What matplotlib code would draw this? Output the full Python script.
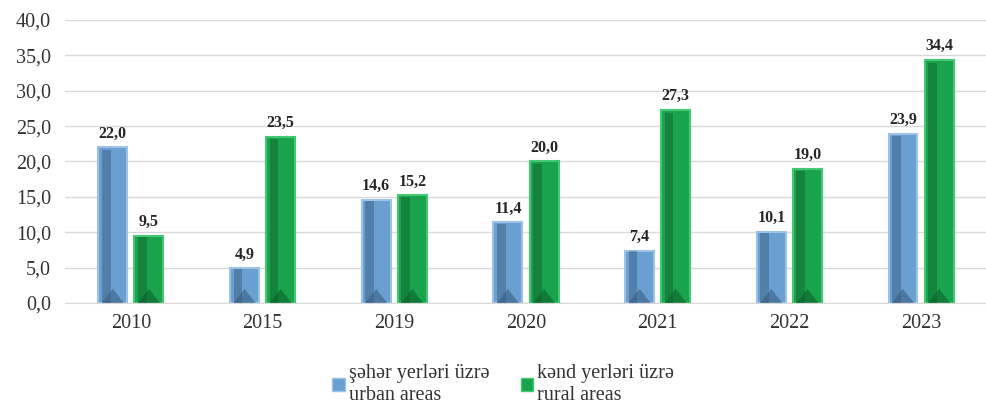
import numpy as np
import matplotlib
matplotlib.use("Agg")
import matplotlib.pyplot as plt
from matplotlib.patches import Rectangle, Polygon

plt.rcParams['font.family'] = ['Liberation Serif', 'DejaVu Serif']

years = ['2010', '2015', '2019', '2020', '2021', '2022', '2023']
urban = [22.0, 4.9, 14.6, 11.4, 7.4, 10.1, 23.9]
rural = [9.5, 23.5, 15.2, 20.0, 27.3, 19.0, 34.4]
yticks = [0, 5, 10, 15, 20, 25, 30, 35, 40]

urban_col = dict(face='#6a9fd2', dark='#35587a', edge='#9cc3e6')
rural_col = dict(face='#18a34c', dark='#0d5c2c', edge='#45c874')


def fmt(v):
    return f"{v:.1f}".replace('.', ',')


def bevel_bars(ax, xs, vals, width, cols):
    bars = ax.bar(xs, vals, width, color=cols['face'], edgecolor=cols['edge'],
                  linewidth=1.5, zorder=3)
    for b in bars:
        x0, w, h = b.get_x(), b.get_width(), b.get_height()
        # darker left face and bottom triangle to fake the bevel look
        ax.add_patch(Rectangle((x0 + w * 0.12, 0), w * 0.3, h * 0.985, color=cols['dark'],
                               alpha=0.45, lw=0, zorder=4))
        tri_h = min(h * 0.5, 2.0)
        ax.add_patch(Polygon([(x0 + w * 0.12, 0), (x0 + w * 0.88, 0),
                              (x0 + w * 0.5, tri_h)], closed=True,
                             color=cols['dark'], alpha=0.55, lw=0, zorder=4))
    return bars


fig = plt.figure(figsize=(9.87, 4.12), dpi=100)
ax = fig.add_axes([0.0659, 0.2646, 0.934, 0.687])

x = np.arange(len(years))
w = 0.22
off = 0.137
b1 = bevel_bars(ax, x - off, urban, w, urban_col)
b2 = bevel_bars(ax, x + off, rural, w, rural_col)

for bars, vals in [(b1, urban), (b2, rural)]:
    for b, v in zip(bars, vals):
        ax.annotate(fmt(v), (b.get_x() + b.get_width() / 2, v), xytext=(0, 4),
                    textcoords='offset points', ha='center', va='bottom',
                    fontsize=11.5, fontweight='bold', color='#262626')

ax.set_xlim(-0.5, len(years) - 0.5)
ax.set_ylim(0, 40)
ax.set_yticks(yticks)
ax.set_yticklabels([fmt(t) for t in yticks], fontsize=14.5, color='#333333')
ax.set_xticks(x)
ax.set_xticklabels(years, fontsize=14.5, color='#333333')
ax.tick_params(length=0, pad=10)
ax.tick_params(axis='x', pad=8)
ax.grid(axis='y', color='#d9d9d9', lw=1, zorder=0)
for s in ['top', 'right', 'left']:
    ax.spines[s].set_visible(False)
ax.spines['bottom'].set_color('#d9d9d9')

h1 = Rectangle((0, 0), 1, 1, facecolor=urban_col['face'], edgecolor=urban_col['edge'])
h2 = Rectangle((0, 0), 1, 1, facecolor=rural_col['face'], edgecolor=rural_col['edge'])
fig.legend([h1, h2], ['şəhər yerləri üzrə\nurban areas', 'kənd yerləri üzrə\nrural areas'],
           loc='upper center', bbox_to_anchor=(0.51, 0.16), ncol=2, frameon=False,
           prop={'family': ['Liberation Serif', 'DejaVu Serif'], 'size': 14.5},
           handlelength=0.6, handleheight=0.6, handletextpad=0.2,
           columnspacing=1.6, labelspacing=0.1, labelcolor='#333333')

fig.savefig('out.png', dpi=100)
